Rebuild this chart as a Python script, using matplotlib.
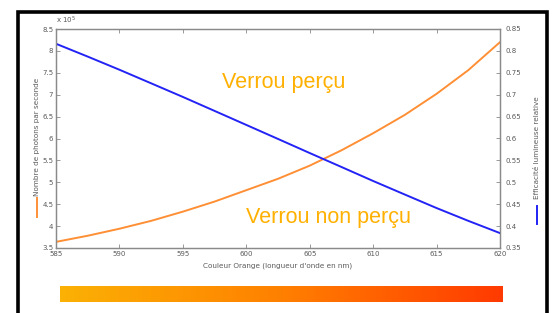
import numpy as np
import matplotlib
matplotlib.use("Agg")
import matplotlib.pyplot as plt
from matplotlib.colors import LinearSegmentedColormap
from matplotlib.lines import Line2D
from matplotlib.patches import Rectangle
from matplotlib.ticker import FormatStrFormatter

# longueur d'onde (nm)
wavelength = [585, 587.5, 590, 592.5, 595, 597.5, 600, 602.5,
              605, 607.5, 610, 612.5, 615, 617.5, 620]
# nombre de photons par seconde (x 10^5)
photons = [3.64, 3.78, 3.94, 4.12, 4.33, 4.56, 4.82, 5.08,
           5.38, 5.73, 6.12, 6.54, 7.02, 7.56, 8.2]
# efficacite lumineuse relative
efficacite = [0.8163, 0.787, 0.757, 0.726, 0.6949, 0.663, 0.631, 0.599,
              0.5668, 0.535, 0.503, 0.472, 0.4412, 0.412, 0.384]

left_ticks = [3.5, 4, 4.5, 5, 5.5, 6, 6.5, 7, 7.5, 8, 8.5]
right_ticks = [0.35, 0.4, 0.45, 0.5, 0.55, 0.6, 0.65, 0.7, 0.75, 0.8, 0.85]
x_ticks = [585, 590, 595, 600, 605, 610, 615, 620]

W, H = 552, 313
fig = plt.figure(figsize=(W / 100, H / 100), dpi=100)

gray = "#8a8a8a"
txt = "#5a5a5a"
orange = "#FF8F35"
blue = "#2323F5"
gold = "#FFB000"

ax = fig.add_axes([56 / W, 1 - 248 / H, 444 / W, 219 / H])
ax.plot(wavelength, photons, color=orange, lw=1.4)
ax.set_xlim(585, 620)
ax.set_ylim(3.5, 8.5)
ax.set_xticks(x_ticks)
ax.set_yticks(left_ticks)
ax.yaxis.set_major_formatter(FormatStrFormatter("%g"))
ax.tick_params(direction="in", length=3, width=0.6, color=gray, labelcolor=txt,
               labelsize=5, pad=2, top=True)
for s in ax.spines.values():
    s.set_color(gray)
    s.set_linewidth(0.9)

ax2 = ax.twinx()
ax2.plot(wavelength, efficacite, color=blue, lw=1.4)
ax2.set_ylim(0.35, 0.85)
ax2.set_yticks(right_ticks)
ax2.yaxis.set_major_formatter(FormatStrFormatter("%g"))
ax2.tick_params(direction="in", length=3, width=0.6, color=gray, labelcolor=txt,
                labelsize=5, pad=4)
for s in ax2.spines.values():
    s.set_color(gray)
    s.set_linewidth(0.9)

ax.text(0.0, 1.015, r"x 10$^5$", transform=ax.transAxes, fontsize=5,
        color=txt, ha="left", va="bottom")
fig.text(278 / W, 1 - 266 / H, "Couleur Orange (longueur d'onde en nm)",
         fontsize=5.2, color=txt, ha="center", va="center")
fig.text(37 / W, 1 - 137 / H, "Nombre de photons par seconde", rotation=90,
         fontsize=5.2, color=txt, ha="center", va="center")
fig.text(537 / W, 1 - 148 / H, "Efficacité lumineuse relative", rotation=90,
         fontsize=5.2, color=txt, ha="center", va="center")
fig.add_artist(Line2D([37 / W, 37 / W], [1 - 198 / H, 1 - 217 / H],
                      color=orange, lw=1.4, transform=fig.transFigure))
fig.add_artist(Line2D([537 / W, 537 / W], [1 - 206 / H, 1 - 224 / H],
                      color=blue, lw=1.4, transform=fig.transFigure))

fig.text(284 / W, 1 - 82 / H, "Verrou perçu", fontsize=15.5, color=gold,
         ha="center", va="center", family="Liberation Sans")
fig.text(328 / W, 1 - 217 / H, "Verrou non perçu", fontsize=15.5, color=gold,
         ha="center", va="center", family="Liberation Sans")

# bande de couleur
bar = fig.add_axes([60 / W, 1 - 302 / H, 443 / W, 16 / H])
cmap = LinearSegmentedColormap.from_list("orange", ["#FBB105", "#FF8000", "#FF3A00"])
bar.imshow(np.linspace(0, 1, 256)[None, :], aspect="auto", cmap=cmap)
bar.axis("off")

# cadre noir
fig.add_artist(Rectangle((17.5 / W, -0.1), 529 / W, 1.1 - 12 / H, fill=False,
                         edgecolor="black", lw=2.6, transform=fig.transFigure))

fig.savefig("out.png", dpi=100)
